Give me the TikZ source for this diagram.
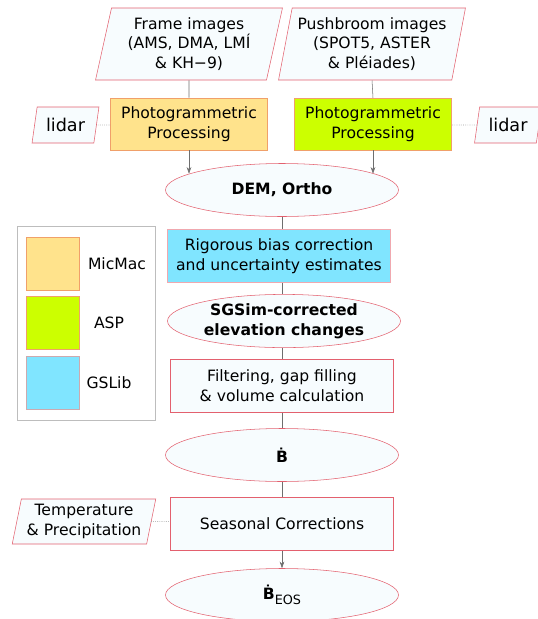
\documentclass[tikz,border=0pt]{standalone}
\usepackage{fontspec}
\setmainfont{DejaVu Sans}
\usepackage{xcolor}
\usetikzlibrary{arrows.meta, positioning, calc, shapes.geometric}

\definecolor{edge}{HTML}{E3606E}
\definecolor{paper}{HTML}{F7FCFE}
\definecolor{wire}{HTML}{6E6E6E}
\definecolor{micmac}{HTML}{FFE38C}
\definecolor{asp}{HTML}{CCFF00}
\definecolor{gslib}{HTML}{80E5FF}
\definecolor{toolline}{HTML}{F0A06A}
\definecolor{keyline}{HTML}{BDBDBD}

\begin{document}
\begin{tikzpicture}[
      x=0.75pt, y=-0.75pt,
      font=\fontsize{11.7}{14.8}\selectfont,
      data/.style={trapezium, trapezium left angle=77, trapezium right angle=103,
        trapezium stretches=true, draw=edge, fill=paper, align=center, inner sep=1pt},
      proc/.style={rectangle, draw=edge, fill=paper, align=center,
        minimum width=167.25pt, minimum height=39.5pt, inner sep=2pt},
      prod/.style={ellipse, draw=edge, fill=paper, align=center, inner sep=1pt,
        minimum width=174.75pt, minimum height=39.75pt,
        font=\fontsize{11.7}{14.8}\selectfont\bfseries},
      tool/.style={rectangle, draw=toolline, fill=#1, align=center,
        minimum width=117.75pt, minimum height=39pt, inner sep=2pt},
      swatch/.style={rectangle, draw=toolline, fill=#1, minimum size=39.75pt, inner sep=0pt},
      flow/.style={draw=wire},
      feed/.style={-{Stealth[length=5pt, width=3.5pt]}, draw=wire},
      aux/.style={draw=wire!70, densely dotted}
    ]
      \useasboundingbox (0,0) rectangle (537,619);
      \node[data, minimum width=140.25pt, minimum height=54pt] (frame) at (189,44)
        {Frame images\\(AMS, DMA, LMÍ\\\& KH−9)};
      \node[data, minimum width=140.25pt, minimum height=54pt] (push) at (372,44)
        {Pushbroom images\\(SPOT5, ASTER\\\& Pléiades)};
      \node[tool=micmac] (photoL) at (189,124) {Photogrammetric\\Processing};
      \node[tool=asp] (photoR) at (373,124) {Photogrammetric\\Processing};
      \node[data, minimum width=50.25pt, minimum height=27pt,
        font=\fontsize{13.2}{16}\selectfont] (lidarL) at (65.5,125) {lidar};
      \node[data, minimum width=50.25pt, minimum height=27pt,
        font=\fontsize{13.2}{16}\selectfont] (lidarR) at (508,125) {lidar};
      \node[prod] (dem) at (282,190) {DEM, Ortho};
      \node[proc, fill=gslib, draw=edge!55] (bias) at (279,256)
        {Rigorous bias correction\\and uncertainty estimates};
      \node[prod] (sgsim) at (284,321) {SGSim-corrected\\elevation changes};
      \node[proc] (gapfill) at (282,386) {Filtering, gap filling\\\& volume calculation};
      \node[prod] (mb) at (282,455) {Ḃ};
      \node[proc] (season) at (282,524) {Seasonal Corrections};
      \node[data, minimum width=108pt, minimum height=33.75pt] (climate) at (84,521.5)
        {Temperature\\\& Precipitation};
      \node[prod] (mbeos) at (282,595)
        {Ḃ\raisebox{-3.5pt}{\normalfont\fontsize{9.6}{11}\selectfont EOS}};

      \draw[keyline] (17,226) rectangle (155,420);
      \node[swatch=micmac] (keyMM) at (52.5,263.5) {};
      \node[swatch=asp] (keyASP) at (52.5,322.5) {};
      \node[swatch=gslib, draw=edge!45!gray!60] (keyGS) at (52.5,383) {};
      \node (labMM) at (117,264) {MicMac};
      \node (labASP) at (109,323) {ASP};
      \node (labGS) at (109,383) {GSLib};

      \draw[flow] (frame.south) -- (photoL.north);
      \draw[flow] (push.south) -- (photoR.north);
      \draw[feed] (photoL.south) -- (photoL.south |- dem.170);
      \draw[feed] (photoR.south) -- (photoR.south |- dem.10);
      \draw[aux] (lidarL) -- (photoL.west |- lidarL);
      \draw[aux] (lidarR) -- (photoR.east |- lidarR);
      \draw[flow] (dem.south) -- (dem.south |- bias.north);
      \draw[flow] (dem.south |- bias.south) -- (dem.south |- sgsim.north);
      \draw[flow] (dem.south |- sgsim.south) -- (gapfill.north);
      \draw[flow] (gapfill.south) -- (mb.north);
      \draw[flow] (mb.south) -- (season.north);
      \draw[aux] (climate) -- (season.west |- climate);
      \draw[feed] (season.south) -- (mbeos.north);
    \end{tikzpicture}
\end{document}
